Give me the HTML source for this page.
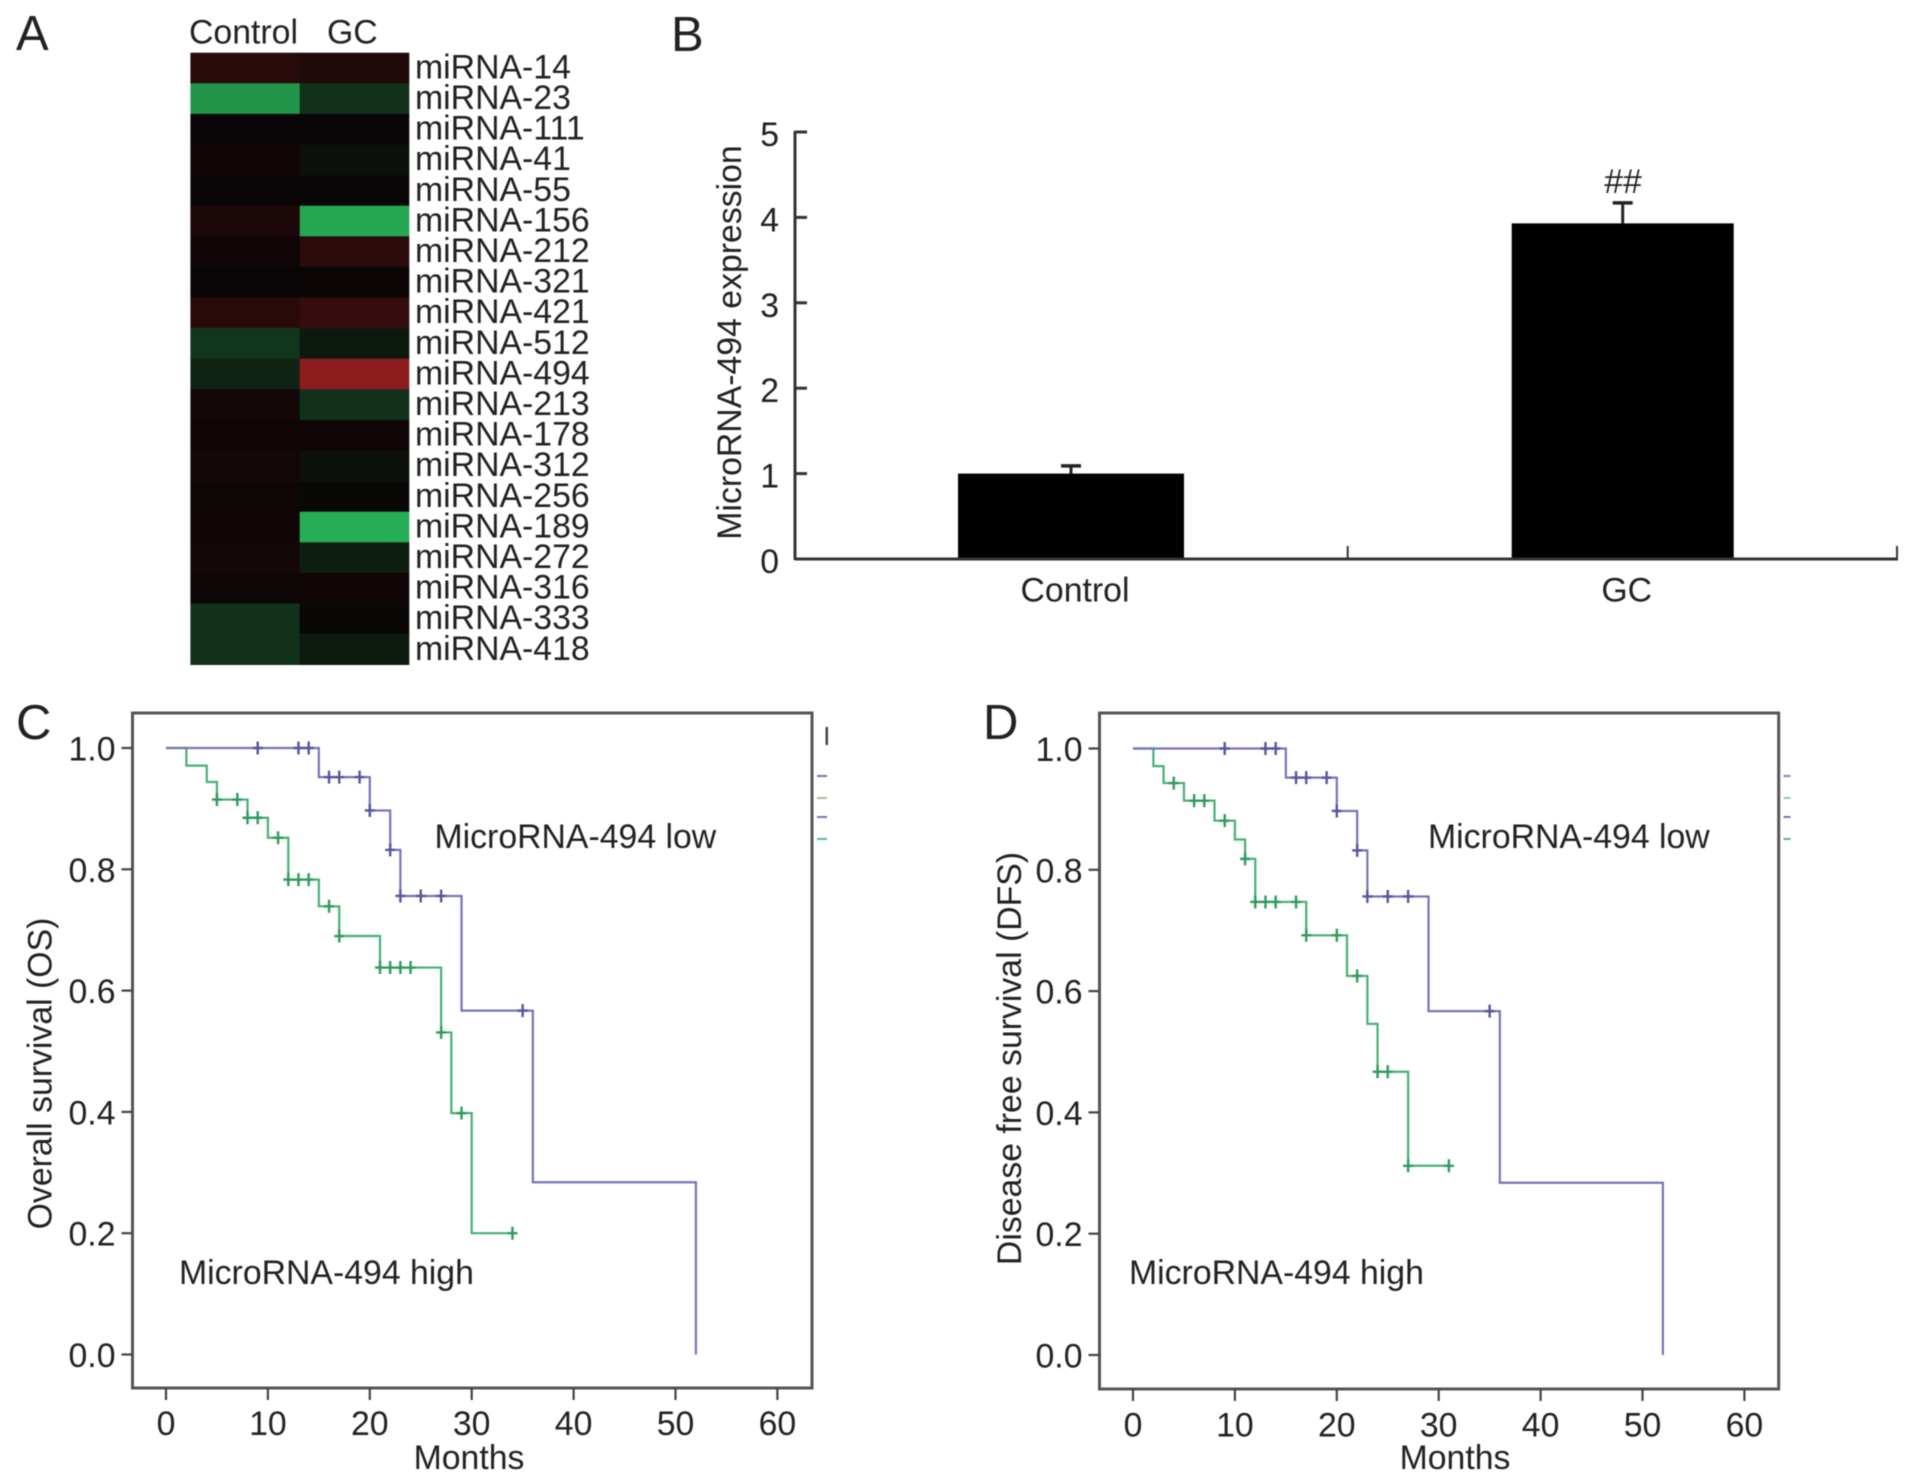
<!DOCTYPE html>
<html lang="en">
<head>
<meta charset="utf-8">
<title>MicroRNA-494 expression and survival</title>
<style>
html,body{margin:0;padding:0;background:#fff;width:1913px;height:1483px;overflow:hidden}
svg{display:block;filter:blur(0.55px)}
text{font-family:"Liberation Sans",Arial,sans-serif;font-size:33.8px;fill:#222}
.panel{font-size:49px;fill:#222}
</style>
</head>
<body>
<svg id="fig" xmlns="http://www.w3.org/2000/svg" width="1913" height="1483" viewBox="0 0 1913 1483">
  <rect width="1913" height="1483" fill="#fff"/>

  <text class="panel" x="16" y="50">A</text>
  <text class="panel" x="671" y="51">B</text>
  <text class="panel" x="16" y="739">C</text>
  <text class="panel" x="983" y="739">D</text>

  <g id="panel-a">
    <text x="189" y="43.5">Control</text>
    <text x="327" y="43.5">GC</text>
  </g>

  <g id="panel-b">
    <text transform="translate(741,342.5) rotate(-90)" text-anchor="middle">MicroRNA-494 expression</text>
    <text x="1623" y="193" text-anchor="middle">##</text>
  </g>

  <g id="panel-c">
    <text transform="translate(51.5,1073.5) rotate(-90)" text-anchor="middle">Overall survival (OS)</text>
    <text x="469" y="1469" text-anchor="middle">Months</text>
    <text x="434.5" y="848">MicroRNA-494 low</text>
    <text x="179" y="1284">MicroRNA-494 high</text>
  </g>

  <g id="panel-d">
    <text transform="translate(1021,1058.5) rotate(-90)" text-anchor="middle">Disease free survival (DFS)</text>
    <text x="1455" y="1469" text-anchor="middle">Months</text>
    <text x="1428" y="848">MicroRNA-494 low</text>
    <text x="1129" y="1284">MicroRNA-494 high</text>
  </g>
</svg>

<script>
// Panel A data
const heatmapRows = ["miRNA-14","miRNA-23","miRNA-111","miRNA-41","miRNA-55","miRNA-156","miRNA-212","miRNA-321","miRNA-421","miRNA-512","miRNA-494","miRNA-213","miRNA-178","miRNA-312","miRNA-256","miRNA-189","miRNA-272","miRNA-316","miRNA-333","miRNA-418"];
const heatmapControl = [0.2,-0.83,0,0.05,0,0.12,0.04,0,0.2,-0.28,-0.17,0.07,0.04,0.07,0.03,0.04,0.07,0.03,-0.25,-0.25];
const heatmapGC = [0.15,-0.25,0,-0.07,0,-0.93,0.22,0.01,0.3,-0.11,0.88,-0.25,0.04,-0.07,-0.01,-0.97,-0.15,0.04,-0.01,-0.12];

// Panel B data
const barCategories = ["Control","GC"];
const barValues = [1.0,3.93];
const barErrors = [0.09,0.24];
const barTicks = [0,1,2,3,4,5];

// Panels C and D data
const monthTicks = [0,10,20,30,40,50,60];
const survivalTicks = ["0.0","0.2","0.4","0.6","0.8","1.0"];

const osLowTimes = [0,15,20,22,23,29,36,52];
const osLowLevels = [1,0.952,0.897,0.832,0.756,0.567,0.284,0];
const osLowCensored = [9,13,14,16,17,19,20,22,23,25,27,35];
const osHighTimes = [0,2,4,5,8,10,12,15,17,21,27,28,30,34];
const osHighLevels = [1,0.971,0.944,0.915,0.885,0.852,0.783,0.739,0.69,0.638,0.531,0.398,0.2,0.2];
const osHighCensored = [5,7,8,9,11,12,13,14,16,17,21,22,23,24,27,29,34];

const dfsLowTimes = [0,15,20,22,23,29,36,52];
const dfsLowLevels = [1,0.952,0.897,0.832,0.756,0.567,0.284,0];
const dfsLowCensored = [9,13,14,16,17,19,20,22,23,25,27,35];
const dfsHighTimes = [0,2,3,5,8,10,11,12,17,21,23,24,27,31];
const dfsHighLevels = [1,0.971,0.943,0.914,0.881,0.85,0.818,0.747,0.692,0.625,0.546,0.467,0.312,0.312];
const dfsHighCensored = [4,6,7,9,11,12,13,14,16,17,20,22,24,25,27,31];

const NS = "http://www.w3.org/2000/svg";
function mk(parent, tag, attrs, txt){
  const el = document.createElementNS(NS, tag);
  for (const k in attrs) el.setAttribute(k, attrs[k]);
  if (txt !== undefined) el.textContent = txt;
  parent.appendChild(el);
  return el;
}
function lerp(a,b,t){return Math.round(a+(b-a)*t);}
function heatColor(v){
  const base=[10,5,6], neg=[39,179,88], pos=[158,30,32];
  const end = v<0 ? neg : pos, t=Math.min(1,Math.abs(v));
  return "rgb("+lerp(base[0],end[0],t)+","+lerp(base[1],end[1],t)+","+lerp(base[2],end[2],t)+")";
}

// ---- Heatmap ----
(function(){
  const g = document.getElementById("panel-a");
  const left=190.4, colW=109.3, top=52.7, rowH=30.6;
  heatmapRows.forEach(function(name,i){
    const y = top+i*rowH;
    [heatmapControl[i],heatmapGC[i]].forEach(function(v,c){
      const cell = mk(g,"rect",{x:left+c*colW,y:y,width:colW+0.3,height:rowH+0.3,fill:heatColor(v)});
      
      
    });
    const label = mk(g,"text",{x:415,y:y+rowH/2+10.4},name);
    
    
  });
})();

// ---- Bar chart ----
(function(){
  const g = document.getElementById("panel-b");
  const y0=559, unit=85.4, axisX=795, axisEnd=1898;
  const yScale = function(v){return y0-v*unit;};
  const centers=[1071,1622.7], barW=[226,222];
  const col="#333";
  barValues.forEach(function(v,i){
    const errLine = mk(g,"line",{x1:centers[i],x2:centers[i],y1:yScale(v),y2:yScale(v+barErrors[i]),stroke:"#222","stroke-width":3});
    
    
    const cap = mk(g,"line",{x1:centers[i]-10,x2:centers[i]+10,y1:yScale(v+barErrors[i]),y2:yScale(v+barErrors[i]),stroke:"#222","stroke-width":3.5});
    
    
    const bar = mk(g,"rect",{x:centers[i]-barW[i]/2,y:yScale(v),width:barW[i],height:v*unit,fill:"#000"});
    
    
    const lab = mk(g,"text",{x:centers[i]+4,y:601.5,"text-anchor":"middle"},barCategories[i]);
    
    
  });
  const yAxis = mk(g,"line",{x1:axisX,x2:axisX,y1:yScale(5)-1,y2:y0+1,stroke:col,"stroke-width":3});
  
  
  const xAxis = mk(g,"line",{x1:axisX,x2:axisEnd,y1:y0,y2:y0,stroke:col,"stroke-width":3});
  
  
  [1347.7,axisEnd-1].forEach(function(x){
    const t = mk(g,"line",{x1:x,x2:x,y1:y0,y2:y0-13,stroke:col,"stroke-width":2});
    
    
  });
  barTicks.forEach(function(v){
    const t = mk(g,"line",{x1:axisX,x2:axisX+12,y1:yScale(v),y2:yScale(v),stroke:col,"stroke-width":3});
    
    
    const l = mk(g,"text",{x:779,y:yScale(v)+14,"text-anchor":"end"},String(v));
    
    
  });
})();

// ---- Survival plots ----
function levelAt(times,levels,t){
  let s=levels[0];
  for(let i=0;i<times.length;i++){ if(times[i]<=t) s=levels[i]; }
  return s;
}
function drawSeries(g,xS,yS,times,levels,censored,color,dark,prefix){
  let d="M"+xS(times[0])+" "+yS(levels[0]);
  for(let i=1;i<times.length;i++){ d+=" H"+xS(times[i])+" V"+yS(levels[i]); }
  const line = mk(g,"path",{d:d,fill:"none",stroke:color,"stroke-width":2.2});
  
  
  censored.forEach(function(t){
    const s=levelAt(times,levels,t);
    const px=xS(t), py=yS(s);
    const mark = mk(g,"path",{d:"M"+px+" "+(py-6.5)+" V"+(py+6.5)+" M"+(px-5)+" "+py+" H"+(px+5),fill:"none",stroke:dark,"stroke-width":2.4});
    
    
  });
}
function drawKM(cfg){
  const g=document.getElementById(cfg.id);
  const xS=function(t){return cfg.x0+t*cfg.kx;};
  const yS=function(s){return cfg.y0-s*606.5;};
  const frame = mk(g,"rect",{x:cfg.left,y:713,width:cfg.right-cfg.left,height:cfg.bottom-713,fill:"none",stroke:"#555","stroke-width":3});
  
  
  monthTicks.forEach(function(m){
    const t = mk(g,"line",{x1:xS(m),x2:xS(m),y1:cfg.bottom,y2:cfg.bottom+12,stroke:"#444","stroke-width":2.2});
    
    
    const l = mk(g,"text",{x:xS(m),y:cfg.xLabelY,"text-anchor":"middle"},String(m));
    
    
  });
  survivalTicks.forEach(function(lbl){
    const v=parseFloat(lbl);
    const t = mk(g,"line",{x1:cfg.left,x2:cfg.left-11,y1:yS(v),y2:yS(v),stroke:"#444","stroke-width":2.2});
    
    
    const l = mk(g,"text",{x:cfg.left-17,y:yS(v)+12.5,"text-anchor":"end"},lbl);
    
    
  });
  drawSeries(g,xS,yS,cfg.highT,cfg.highL,cfg.highC,"#46b173","#2f9a5c",cfg.name+'-high');
  drawSeries(g,xS,yS,cfg.lowT,cfg.lowL,cfg.lowC,"#7474bb","#55559f",cfg.name+'-low');
  cfg.stray.forEach(function(m){
    const s = mk(g,"rect",{x:m[0],y:m[1],width:m[2],height:m[3],fill:m[4]});
    
    
  });
}
drawKM({id:"panel-c",name:"os",x0:166,kx:10.19,y0:1354.5,left:132.5,right:812,bottom:1388,xLabelY:1435,
  lowT:osLowTimes,lowL:osLowLevels,lowC:osLowCensored,highT:osHighTimes,highL:osHighLevels,highC:osHighCensored,
  stray:[[825.5,727,2.5,18,"#444"],[817,775,10,2,"#7474bb"],[817,797,10,2,"#b5b59a"],[817,816,10,2,"#7474bb"],[817,838,10,2,"#5ab58a"]]});
drawKM({id:"panel-d",name:"dfs",x0:1133,kx:10.19,y0:1355,left:1099.5,right:1778.7,bottom:1389,xLabelY:1436.5,
  lowT:dfsLowTimes,lowL:dfsLowLevels,lowC:dfsLowCensored,highT:dfsHighTimes,highL:dfsHighLevels,highC:dfsHighCensored,
  stray:[[1783.5,775,7,2,"#8a8ab5"],[1783.5,797,7,2,"#8fcfa8"],[1783.5,816,7,2,"#7474bb"],[1783.5,838,7,2,"#5ab58a"]]});
</script>
</body>
</html>
